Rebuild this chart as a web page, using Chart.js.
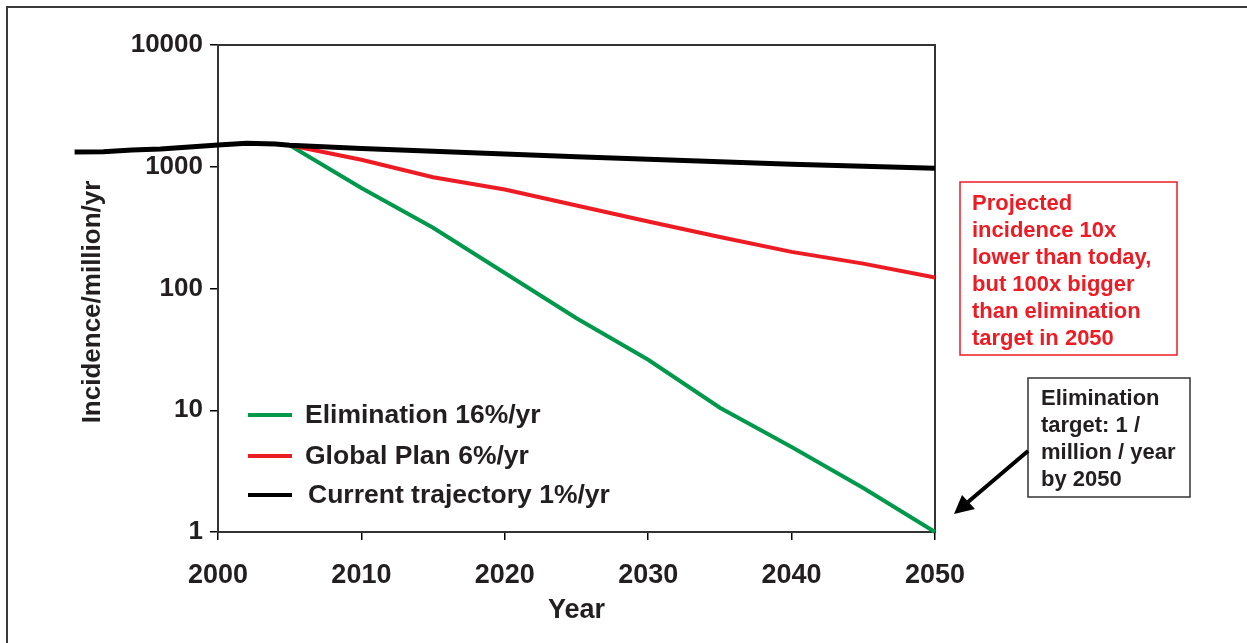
<!DOCTYPE html>
<html>
<head>
<meta charset="utf-8">
<script src="https://cdn.jsdelivr.net/npm/chart.js@4.4.1/dist/chart.umd.min.js"></script>
<style>
  html, body { margin: 0; padding: 0; background: #fff; }
  #wrap { width: 1247px; height: 643px; position: relative; }
</style>
</head>
<body>
<div id="wrap"><canvas id="chart"></canvas></div>
<script>
// values
const blackYears = [1990, 1992, 1994, 1996, 1998, 2000, 2002, 2004, 2005, 2010, 2015, 2020, 2025, 2030, 2035, 2040, 2045, 2050];
const currentTrajectory = [1320, 1330, 1370, 1400, 1450, 1510, 1560, 1540, 1500, 1410, 1340, 1270, 1210, 1150, 1100, 1050, 1010, 970];

const projYears = [2005, 2010, 2015, 2020, 2025, 2030, 2035, 2040, 2045, 2050];
const globalPlan = [1500, 1140, 820, 650, 480, 355, 265, 200, 160, 123];
const elimination = [1500, 670, 315, 134, 57, 26, 10.5, 5, 2.3, 1];

const yTicks = [1, 10, 100, 1000, 10000];

const yTitle = 'Incidence/million/yr';
const legendLabels = ['Elimination 16%/yr', 'Global Plan 6%/yr', 'Current trajectory 1%/yr'];
const redNote = ['Projected', 'incidence 10x', 'lower than today,', 'but 100x bigger', 'than elimination', 'target in 2050'];
const blackNote = ['Elimination', 'target: 1 /', 'million / year', 'by 2050'];

const GREEN = '#00994c';
const RED = '#ed1c24';
const TEXT = '#231f20';
const SANS = '"Liberation Sans", Arial, sans-serif';

const toXY = (xs, ys) => xs.map((x, i) => ({x: x, y: ys[i]}));

const extras = {
    id: 'extras',
    beforeDatasetsDraw(chart) {
        const {ctx, chartArea: a} = chart;
        ctx.save();
        // outer frame
        ctx.strokeStyle = '#3a3a3a';
        ctx.lineWidth = 2;
        ctx.beginPath();
        ctx.moveTo(1247, 7);
        ctx.lineTo(7, 7);
        ctx.lineTo(7, 643);
        ctx.stroke();
        // plot box
        ctx.strokeStyle = '#333';
        ctx.lineWidth = 2;
        ctx.strokeRect(a.left, a.top, a.right - a.left, a.bottom - a.top);

        // y axis title, sits a bit below the axis centre in the original
        ctx.translate(93, 302);
        ctx.rotate(-Math.PI / 2);
        ctx.font = 'bold 26px ' + SANS;
        ctx.fillStyle = TEXT;
        ctx.textAlign = 'center';
        ctx.textBaseline = 'middle';
        ctx.fillText(yTitle, 0, 0);
        ctx.restore();
    },
    afterDraw(chart) {
        const {ctx, chartArea: a} = chart;
        ctx.save();
        // legend inside the plot
        const colors = [GREEN, RED, '#000'];
        const rows = [415, 456, 495];
        const textX = [305, 305, 308];
        ctx.font = 'bold 26.5px ' + SANS;
        ctx.textBaseline = 'middle';
        ctx.textAlign = 'left';
        legendLabels.forEach((t, i) => {
            ctx.strokeStyle = colors[i];
            ctx.lineWidth = 4;
            ctx.beginPath();
            ctx.moveTo(a.left + 30, rows[i]);
            ctx.lineTo(a.left + 74, rows[i]);
            ctx.stroke();
            ctx.fillStyle = TEXT;
            ctx.fillText(t, textX[i], rows[i] + 1);
        });

        // red note box
        ctx.strokeStyle = RED;
        ctx.lineWidth = 1.5;
        ctx.strokeRect(960, 182, 217, 173);
        ctx.fillStyle = RED;
        ctx.font = 'bold 22px ' + SANS;
        redNote.forEach((t, i) => ctx.fillText(t, 972, 204 + i * 27));

        // black note box
        ctx.strokeStyle = '#333';
        ctx.lineWidth = 1.5;
        ctx.strokeRect(1028, 378, 162, 119);
        ctx.fillStyle = TEXT;
        blackNote.forEach((t, i) => ctx.fillText(t, 1041, 399 + i * 27));

        // arrow to the 2050 target
        ctx.strokeStyle = '#000';
        ctx.fillStyle = '#000';
        ctx.lineWidth = 4;
        ctx.beginPath();
        ctx.moveTo(1028, 451);
        ctx.lineTo(968, 502);
        ctx.stroke();
        ctx.beginPath();
        ctx.moveTo(954, 514);
        ctx.lineTo(962, 495);
        ctx.lineTo(975, 509);
        ctx.closePath();
        ctx.fill();
        ctx.restore();
    }
};

new Chart(document.getElementById('chart'), {
    type: 'line',
    data: {
        datasets: [{
            label: legendLabels[2],
            data: toXY(blackYears, currentTrajectory),
            borderColor: '#000',
            borderWidth: 5,
            clip: false
        }, {
            label: legendLabels[1],
            data: toXY(projYears, globalPlan),
            borderColor: RED,
            borderWidth: 4,
            clip: false
        }, {
            label: legendLabels[0],
            data: toXY(projYears, elimination),
            borderColor: GREEN,
            borderWidth: 4,
            clip: false
        }]
    },
    options: {
        responsive: true,
        maintainAspectRatio: false,
        animation: false,
        layout: {padding: {left: 0, top: 45, right: 312, bottom: 0}},
        elements: {point: {radius: 0}, line: {tension: 0}},
        plugins: {legend: {display: false}, tooltip: {enabled: false}},
        scales: {
            x: {
                type: 'linear',
                afterDataLimits: (s) => { s.min = 2000; s.max = 2050; },
                afterFit: (s) => { s.height = 111; },
                ticks: {
                    stepSize: 10,
                    color: TEXT,
                    padding: 19,
                    callback: (v) => String(v),
                    font: {family: SANS, size: 27, weight: 'bold'}
                },
                grid: {drawOnChartArea: false, drawTicks: true, tickLength: 8, color: '#000', lineWidth: 1.5},
                border: {color: '#000', width: 2},
                title: {
                    display: true,
                    text: 'Year',
                    color: TEXT,
                    padding: {top: 0, bottom: 16},
                    font: {family: SANS, size: 27, weight: 'bold'}
                }
            },
            y: {
                type: 'logarithmic',
                min: 1,
                max: 10000,
                afterFit: (s) => { s.width = 218; },
                afterBuildTicks: (s) => { s.ticks = yTicks.map(v => ({value: v})); },
                ticks: {
                    color: TEXT,
                    padding: 7,
                    callback: (v) => String(v),
                    font: {family: SANS, size: 26, weight: 'bold'}
                },
                grid: {drawOnChartArea: false, drawTicks: true, tickLength: 8, color: '#000', lineWidth: 1.5},
                border: {color: '#000', width: 2}
            }
        }
    },
    plugins: [extras]
});
</script>
</body>
</html>
